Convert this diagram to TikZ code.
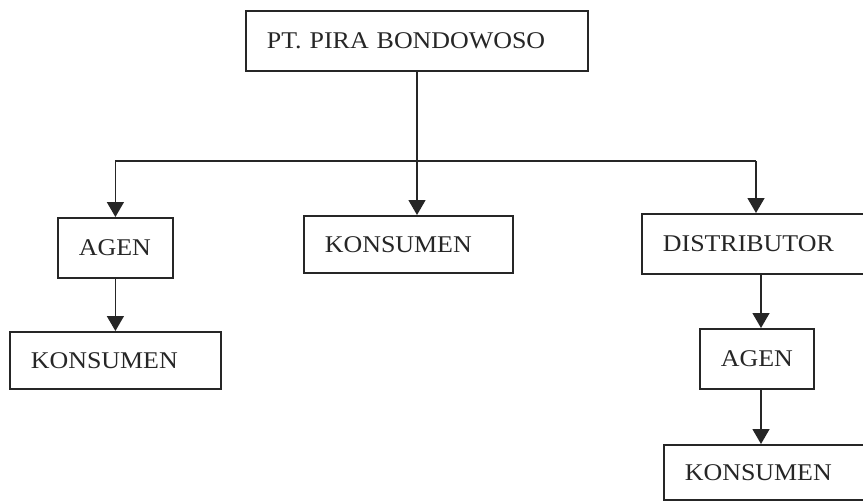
\documentclass[tikz,border=0pt]{standalone}
\usepackage{fontspec}
\newfontfamily\boxfont[FakeStretch=1.08]{Liberation Serif}
\usetikzlibrary{arrows.meta}
\definecolor{ink}{HTML}{262626}
\begin{document}
\begin{tikzpicture}[x=1pt,y=-1pt,
 box/.style={draw=ink, line width=1.8pt, anchor=north west, inner xsep=21pt, inner ysep=0pt, align=left, text=ink, font=\boxfont\fontsize{24}{28}\selectfont},
 arr/.style={draw=ink, line width=1.4pt, -{Triangle[width=17pt,length=15pt]}},
 link/.style={draw=ink, line width=1.4pt}]
\useasboundingbox (0,0) rectangle (863,501);
\clip (0,0) rectangle (863,501);
\fill[white] (0,0) rectangle (863,501);
\node[box, minimum height=60pt, text width=300pt] (top) at (245,10) {PT. PIRA BONDOWOSO};
\node[box, minimum height=60pt, text width=73pt] (aL) at (57,217) {AGEN};
\node[box, minimum height=57pt, text width=167pt] (midK) at (303,215) {KONSUMEN};
\node[box, minimum height=60pt, text width=192pt] (dist) at (641,213) {DISTRIBUTOR};
\node[box, minimum height=57pt, text width=169pt] (kL) at (9,331) {KONSUMEN};
\node[box, minimum height=60pt, text width=72pt] (aR) at (699,328) {AGEN};
\node[box, minimum height=55pt, text width=170pt] (kR) at (663,444) {KONSUMEN};
\coordinate (j) at (417,161);
\coordinate (jr) at (756,161);
\coordinate (rc) at (761,0);
\draw[arr] (top.south -| j) -- (midK.north -| j);
\draw[link] (j -| aL.north) -- (jr);
\draw[arr] (j -| aL.north) -- (aL.north);
\draw[arr] (jr) -- (jr |- dist.north);
\draw[arr] (aL.south) -- (kL.north -| aL.south);
\draw[arr] (dist.south -| rc) -- (aR.north -| rc);
\draw[arr] (aR.south -| rc) -- (kR.north -| rc);
\end{tikzpicture}
\end{document}
